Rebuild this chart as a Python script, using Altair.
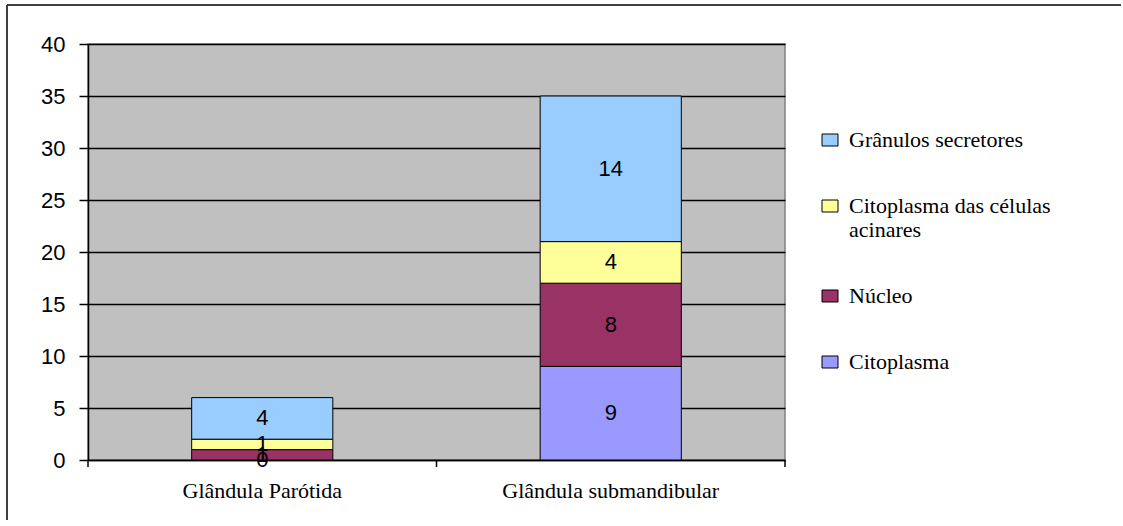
import altair as alt
import pandas as pd

categories = ["Glândula Parótida", "Glândula submandibular"]
series = ["Citoplasma", "Núcleo", "Citoplasma das células acinares", "Grânulos secretores"]
parotida_values = [0, 1, 1, 4]
submandibular_values = [9, 8, 4, 14]
series_colors = ["#9999FF", "#993366", "#FFFF99", "#99CCFF"]
y_ticks = [0, 5, 10, 15, 20, 25, 30, 35, 40]

rows = []
for cat, vals in zip(categories, [parotida_values, submandibular_values]):
    for i, (s, v) in enumerate(zip(series, vals)):
        rows.append({"categoria": cat, "serie": s, "valor": v, "ordem": i})
df = pd.DataFrame(rows)

legend_order = list(reversed(series))
legend_colors = list(reversed(series_colors))

x_scale = alt.Scale(paddingInner=0, paddingOuter=0)

x_enc = alt.X(
    "categoria:N", sort=categories, scale=x_scale,
    axis=alt.Axis(title=None, ticks=False, labelAngle=0, labelFont="Liberation Serif",
                  labelFontSize=22, labelColor="black", labelPadding=20, labelLimit=400,
                  domainColor="black", domainWidth=1.5),
)

y_enc = alt.Y(
    "valor:Q", stack="zero", scale=alt.Scale(domain=[0, 40], nice=False),
    axis=alt.Axis(title=None, values=y_ticks, domainColor="black", domainWidth=1.5,
                  tickColor="black", tickSize=9, tickWidth=1.5,
                  labelFont="Liberation Sans", labelFontSize=22, labelColor="black",
                  labelPadding=14, gridColor="black", gridWidth=1.5),
)

bars = alt.Chart(df).mark_bar(
    width=alt.RelativeBandSize(0.405), stroke="black", strokeWidth=1
).encode(
    x=x_enc,
    y=y_enc,
    color=alt.Color(
        "serie:N",
        scale=alt.Scale(domain=legend_order, range=legend_colors),
        legend=alt.Legend(
            title=None, orient="none", legendX=731, legendY=85,
            symbolType="M-1,-0.75H1V0.75H-1Z", symbolSize=256,
            symbolStrokeColor="black", symbolStrokeWidth=1,
            labelFont="Liberation Serif", labelFontSize=22, labelColor="black",
            labelOffset=8, rowPadding=44, labelLimit=400,
            labelExpr="datum.label == 'Citoplasma das células acinares' ? ['Citoplasma das células', 'acinares'] : datum.label",
        ),
    ),
    order=alt.Order("ordem:Q", sort="ascending"),
)

labels = alt.Chart(df).transform_window(
    topo="sum(valor)", groupby=["categoria"], sort=[alt.SortField("ordem")], frame=[None, 0]
).transform_calculate(
    meio="datum.topo - datum.valor / 2"
).mark_text(font="Liberation Sans", fontSize=22, color="black").encode(
    x=alt.X("categoria:N", sort=categories),
    y=alt.Y("meio:Q"),
    text=alt.Text("valor:Q"),
)

cat_df = pd.DataFrame({"categoria": categories})
xticks = alt.Chart(cat_df).mark_rule(color="black", strokeWidth=1.5).encode(
    x=alt.X("categoria:N", sort=categories, bandPosition=0),
    y=alt.value(416), y2=alt.value(423),
)
xtick_end = alt.Chart(cat_df.tail(1)).mark_rule(color="black", strokeWidth=1.5).encode(
    x=alt.X("categoria:N", sort=categories, bandPosition=1),
    y=alt.value(416), y2=alt.value(423),
)

border_data = alt.Data(values=[{"a": 1}])
top_rule = alt.Chart(border_data).mark_rule(color="#404040", strokeWidth=2).encode(
    x=alt.value(-81), x2=alt.value(1033), y=alt.value(-39)
)
left_rule = alt.Chart(border_data).mark_rule(color="#404040", strokeWidth=2).encode(
    x=alt.value(-81), y=alt.value(-39), y2=alt.value(476)
)

chart = alt.layer(bars, labels, xticks, xtick_end, top_rule, left_rule).properties(
    width=697, height=416,
    padding={"left": 6, "top": 4, "right": 0, "bottom": 0},
    background="white",
).configure_view(fill="#C0C0C0", stroke="#808080", strokeWidth=1.5)

chart.save("out.html", embed_options={"renderer": "svg", "actions": False})
